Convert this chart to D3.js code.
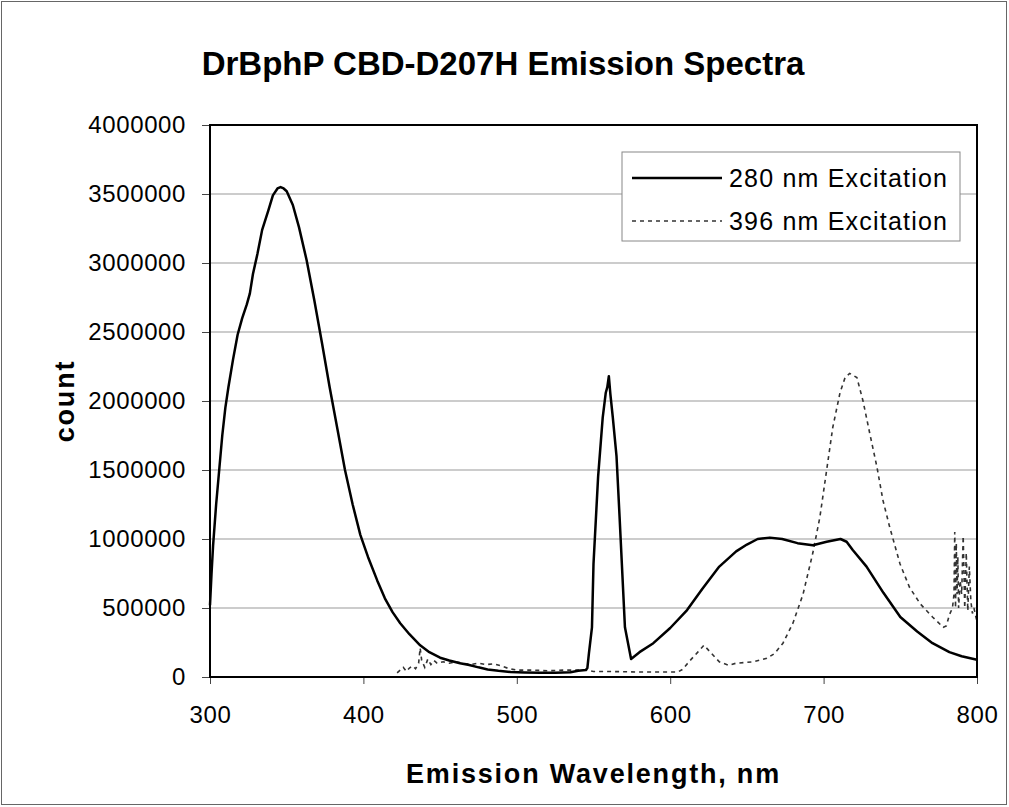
<!DOCTYPE html>
<html>
<head>
<meta charset="utf-8">
<script src="https://cdn.jsdelivr.net/npm/d3@7"></script>
<style>
  body { margin: 0; background: #fff; }
  svg { font-family: "Liberation Sans", Arial, sans-serif; }
</style>
</head>
<body>
<div id="chart"></div>
<script>
// Emission spectra values (nm, count)

const xTicks = [300, 400, 500, 600, 700, 800];
const yTicks = [0, 500000, 1000000, 1500000, 2000000, 2500000, 3000000, 3500000, 4000000];

const seriesNames = ['280 nm Excitation', '396 nm Excitation'];

const ex280 = [
    [300, 520000], [301, 750000], [302, 950000], [304, 1250000], [306, 1500000],
    [308, 1750000], [310, 1950000], [312, 2100000], [315, 2300000], [318, 2480000],
    [321, 2600000], [324, 2700000], [326, 2780000], [328, 2920000], [331, 3070000],
    [334, 3240000], [338, 3380000], [341, 3490000], [344, 3540000], [346, 3550000],
    [348, 3540000], [350, 3520000], [354, 3420000], [358, 3260000], [363, 3020000],
    [368, 2730000], [373, 2420000], [378, 2100000], [383, 1800000], [388, 1500000],
    [393, 1250000], [398, 1030000], [403, 870000], [409, 700000], [414, 570000],
    [419, 470000], [424, 390000], [430, 310000], [437, 230000], [443, 180000],
    [450, 140000], [456, 120000], [463, 100000], [469, 87000], [475, 70000],
    [481, 55000], [488, 45000], [496, 36000], [505, 32000], [515, 30000],
    [525, 30000], [535, 35000], [540, 45000], [545, 50000], [546, 65000],
    [547, 170000], [549, 360000], [550, 820000], [553, 1450000], [556, 1880000],
    [558, 2060000], [559, 2100000], [560, 2180000], [561, 2050000], [562.6, 1880000],
    [565, 1600000], [567, 1160000], [570.5, 360000], [574.5, 130000], [580, 180000],
    [589, 245000], [600, 355000], [611, 485000], [621, 640000], [632, 800000],
    [643, 910000], [650, 960000], [657, 1000000], [665, 1010000], [673, 1000000],
    [683, 970000], [693, 955000], [702, 980000], [711, 1000000], [715, 980000],
    [719, 920000], [728, 800000], [739, 610000], [750, 435000], [761, 330000],
    [771, 245000], [782, 180000], [790, 150000], [800, 125000]
];

const ex396 = [
    [422, 30000], [424, 50000], [426, 70000], [428, 40000], [430, 65000],
    [432, 80000], [434, 60000], [436, 100000], [437, 210000], [438, 120000],
    [440, 70000], [442, 130000], [444, 90000], [446, 120000], [448, 100000],
    [452, 110000], [456, 100000], [460, 110000], [465, 100000], [470, 90000],
    [475, 100000], [480, 90000], [485, 95000], [490, 80000], [495, 60000],
    [500, 50000], [510, 50000], [520, 45000], [530, 50000], [540, 50000],
    [545, 50000], [550, 40000], [560, 40000], [580, 36000], [605, 36000],
    [608, 55000], [613, 120000], [618, 180000], [622, 230000], [627, 170000],
    [632, 110000], [638, 85000], [643, 100000], [654, 110000], [663, 135000],
    [668, 170000], [673.5, 245000], [680, 390000], [686.6, 600000], [693, 900000],
    [697.6, 1160000], [702, 1500000], [706, 1810000], [710.7, 2060000], [714, 2170000],
    [717, 2200000], [721.7, 2170000], [725.7, 2000000], [730, 1770000], [734.8, 1520000],
    [738.7, 1280000], [743, 1090000], [749.8, 820000], [756, 650000], [763, 530000],
    [771, 435000], [778, 360000], [780, 370000], [782, 450000], [784, 500000],
    [785, 600000], [785.5, 1050000], [786, 500000], [786.5, 970000], [787, 600000],
    [787.5, 870000], [788, 500000], [789, 700000], [790, 600000], [791, 1020000],
    [792, 500000], [793, 900000], [794, 480000], [795, 800000], [796, 550000],
    [797, 460000], [798, 500000], [800, 400000]
];

const width = 1009;
const height = 807;
const margin = { top: 125, right: 32, bottom: 130, left: 210 };

const svg = d3.select('#chart')
    .append('svg')
    .attr('width', width)
    .attr('height', height)

// outer chart border
svg.append('rect')
    .attr('x', 1.5).attr('y', 1.5)
    .attr('width', width - 4).attr('height', height - 4)
    .attr('fill', 'none')
    .attr('stroke', '#666')
    .attr('stroke-width', 1)

const xScale = d3.scaleLinear()
    .domain([300, 800])
    .range([margin.left, width - margin.right])

const yScale = d3.scaleLinear()
    .domain([0, 4000000])
    .range([height - margin.bottom, margin.top])

// gridlines
svg.append('g')
    .selectAll('line')
    .data(yTicks.filter(d => d > 0 && d < 4000000))
    .enter()
    .append('line')
    .attr('x1', xScale(300)).attr('x2', xScale(800))
    .attr('y1', d => yScale(d)).attr('y2', d => yScale(d))
    .attr('stroke', '#999')
    .attr('stroke-width', 1)

const xAxis = d3.axisBottom(xScale).tickValues(xTicks).tickSize(7).tickSizeOuter(0).tickPadding(22);
const yAxis = d3.axisLeft(yScale).tickValues(yTicks).tickFormat(d3.format('d')).tickSize(8).tickSizeOuter(0).tickPadding(16);

const gx = svg.append('g')
    .attr('transform', 'translate(0,' + (height - margin.bottom) + ')')
    .call(xAxis)

const gy = svg.append('g')
    .attr('transform', 'translate(' + margin.left + ',0)')
    .call(yAxis)

gx.select('.domain').remove();
gy.select('.domain').remove();
svg.selectAll('.tick line').attr('stroke', '#444');
svg.selectAll('.tick text')
    .attr('font-size', 24)
    .attr('letter-spacing', 0.6)
    .attr('fill', '#000')
    .attr('font-family', '"Liberation Sans", Arial, sans-serif')

// the two spectra
const line = d3.line()
    .x(d => xScale(d[0]))
    .y(d => yScale(d[1]))

svg.append('path')
    .datum(ex396)
    .attr('d', line)
    .attr('fill', 'none')
    .attr('stroke', '#333')
    .attr('stroke-width', 1.6)
    .attr('stroke-dasharray', '4,4')

svg.append('path')
    .datum(ex280)
    .attr('d', line)
    .attr('fill', 'none')
    .attr('stroke', '#000')
    .attr('stroke-width', 2.5)
    .attr('stroke-linejoin', 'round')

// plot area frame
svg.append('rect')
    .attr('x', xScale(300)).attr('y', yScale(4000000))
    .attr('width', xScale(800) - xScale(300))
    .attr('height', yScale(0) - yScale(4000000))
    .attr('fill', 'none')
    .attr('stroke', '#000')
    .attr('stroke-width', 2)

// legend
const legend = svg.append('g').attr('transform', 'translate(622,152)');

legend.append('rect')
    .attr('width', 338).attr('height', 89)
    .attr('fill', '#fff')
    .attr('stroke', '#888')
    .attr('stroke-width', 1)

const styles = [
    { stroke: '#000', width: 2.5, dash: null },
    { stroke: '#333', width: 1.6, dash: '4,4' }
];

seriesNames.forEach((name, i) => {
    const y = 26 + i * 43;
    legend.append('line')
        .attr('x1', 10).attr('x2', 100)
        .attr('y1', y).attr('y2', y)
        .attr('stroke', styles[i].stroke)
        .attr('stroke-width', styles[i].width)
        .attr('stroke-dasharray', styles[i].dash)
    legend.append('text')
        .attr('x', 107).attr('y', y)
        .attr('dy', '0.35em')
        .attr('font-size', 25)
        .attr('letter-spacing', 1.2)
        .text(name)
})

// titles
svg.append('text')
    .attr('x', 503).attr('y', 75)
    .attr('text-anchor', 'middle')
    .attr('font-size', 33)
    .attr('font-weight', 'bold')
    .text('DrBphP CBD-D207H Emission Spectra')

svg.append('text')
    .attr('x', (xScale(300) + xScale(800)) / 2).attr('y', 783)
    .attr('text-anchor', 'middle')
    .attr('font-size', 27)
    .attr('font-weight', 'bold')
    .attr('letter-spacing', 1.8)
    .text('Emission Wavelength, nm')

svg.append('text')
    .attr('transform', 'translate(74,' + ((yScale(0) + yScale(4000000)) / 2) + ') rotate(-90)')
    .attr('text-anchor', 'middle')
    .attr('font-size', 27)
    .attr('font-weight', 'bold')
    .attr('letter-spacing', 1.8)
    .text('count')
</script>
</body>
</html>
